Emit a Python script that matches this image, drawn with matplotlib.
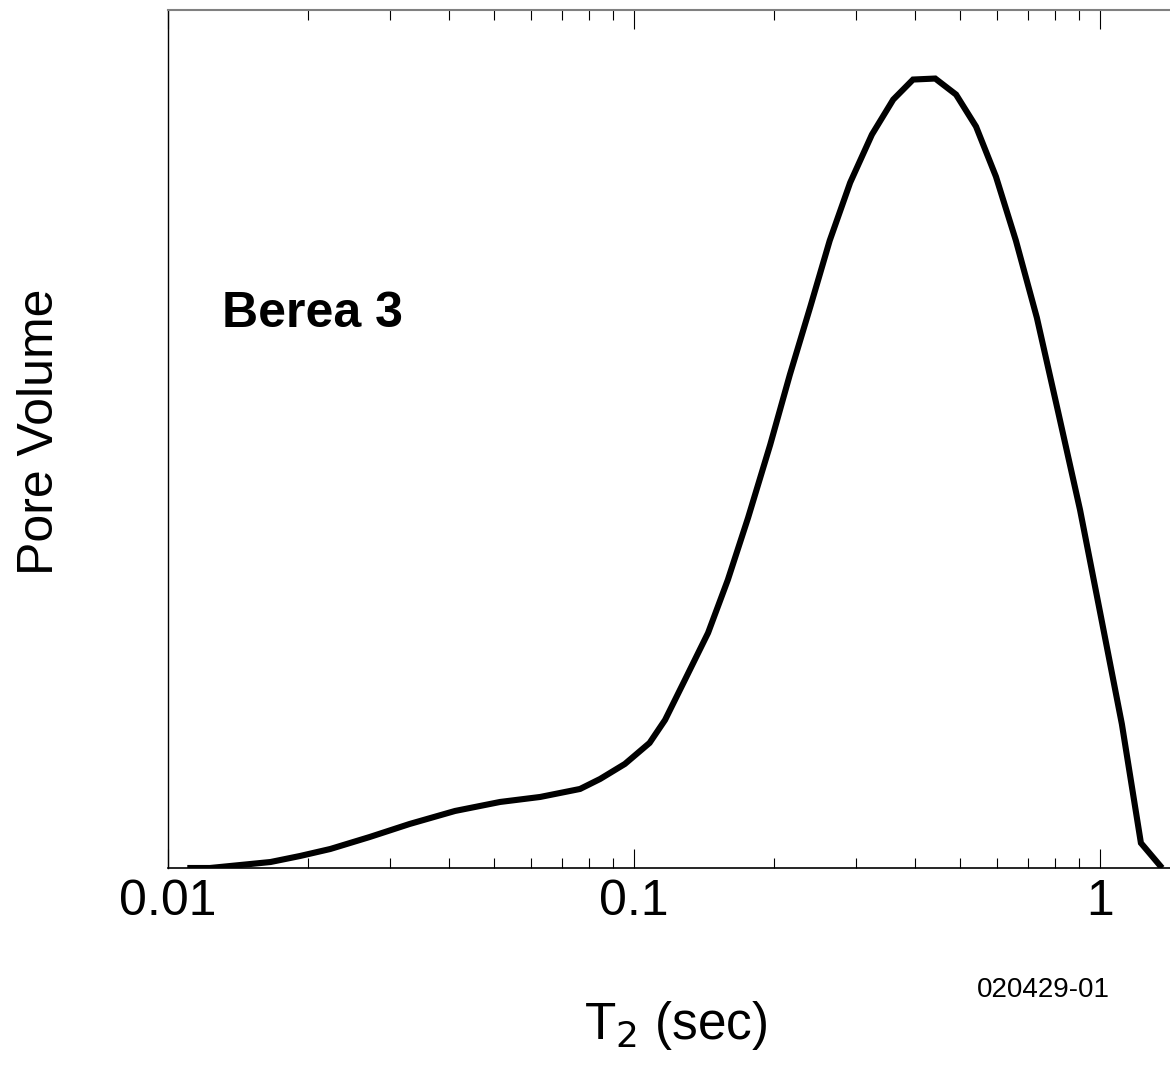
import matplotlib
matplotlib.use("Agg")
import matplotlib.pyplot as plt
from matplotlib.ticker import FixedLocator, NullFormatter, LogLocator

plt.rcParams['font.family'] = ['Liberation Sans', 'DejaVu Sans']

# T2 relaxation times (sec) and relative pore volume
t2 = [0.0110, 0.0123, 0.0143, 0.0166, 0.0192, 0.0223, 0.0271, 0.0330, 0.0413,
      0.0516, 0.0629, 0.0766, 0.0846, 0.0956, 0.108, 0.1166, 0.1286, 0.1442,
      0.159, 0.1757, 0.196, 0.216, 0.239, 0.263, 0.291, 0.324, 0.360, 0.397,
      0.443, 0.491, 0.542, 0.598, 0.660, 0.732, 0.813, 0.906, 1.0, 1.114,
      1.224, 1.359]
pore_volume = [0, 0, 3, 6, 12, 19, 31, 44, 57, 66, 71, 79, 89, 104, 125, 148,
               188, 235, 288, 350, 423, 493, 561, 627, 685, 733, 768, 788, 789,
               773, 741, 691, 627, 550, 456, 358, 256, 144, 25, 0]

major_ticks = [0.01, 0.1, 1]
major_labels = ["0.01", "0.1", "1"]

W, H = 1170, 1065
fig = plt.figure(figsize=(W / 100, H / 100), dpi=100)
left, right, bottom, top = 168, 1170, 868, 9.5
ax = fig.add_axes([left / W, 1 - bottom / H, (right - left) / W, (bottom - top) / H])

ax.plot(t2, pore_volume, color='black', lw=4.4, solid_joinstyle='miter',
        solid_capstyle='butt')

ax.set_xscale('log')
ax.set_xlim(0.01, 10 ** ((1170 - 1100) / 466))
ax.set_ylim(0, 858)

ax.xaxis.set_major_locator(FixedLocator(major_ticks))
ax.set_xticklabels(major_labels)
ax.xaxis.set_minor_locator(LogLocator(base=10, subs=range(2, 10)))
ax.xaxis.set_minor_formatter(NullFormatter())
ax.tick_params(axis='x', which='major', direction='in', length=14, width=0.8,
               top=True, bottom=True, labelsize=36, pad=8)
ax.tick_params(axis='x', which='minor', direction='in', length=7, width=0.8,
               top=True, bottom=True)
ax.set_yticks([])

ax.spines['right'].set_visible(False)
ax.spines['top'].set_color('#808080')
ax.spines['top'].set_linewidth(1.5)
ax.spines['left'].set_linewidth(1.0)
ax.spines['bottom'].set_linewidth(1.2)

fig.text(40 / W, 1 - 432 / H, "Pore Volume", rotation=90, fontsize=36,
         ha='center', va='center')
fig.text(676 / W, 1 - 1025 / H, "T$_2$ (sec)", fontsize=37,
         ha='center', va='center')
fig.text(222 / W, 1 - 314 / H, "Berea 3", fontsize=36, fontweight='bold',
         ha='left', va='center')
fig.text(1110 / W, 1 - 990 / H, "020429-01", fontsize=20,
         ha='right', va='center')

fig.savefig("out.png", dpi=100)
